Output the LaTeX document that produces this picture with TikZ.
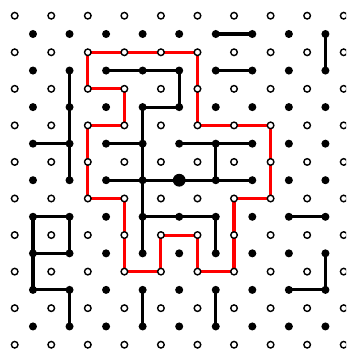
\documentclass[tikz,border=0pt]{standalone}
\usepackage{tikz}
\usetikzlibrary{backgrounds}
\tikzset{
  lat/open/.style={draw, circle, fill=white, line width=1.1pt, inner sep=0pt, minimum size=1.8mm},
  lat/dot/.style={fill, circle, inner sep=0pt, minimum size=2.2mm},
  lat/root/.style={fill, circle, inner sep=0pt, minimum size=3.5mm},
  lat/edge/.style={line width=2.4pt},
  lat/loop/.style={red, line width=2.4pt}
}

\begin{document}
\begin{tikzpicture}
  \useasboundingbox (-0.402,0.43) rectangle (9.063,-9.117);
  \clip (-0.402,0.43) rectangle (9.063,-9.117);

  % the two lattices
  \foreach \i in {0,...,9}
    \foreach \j in {0,...,9}
      \node[lat/open] (o-\i-\j) at (\i,-\j) {};
  \foreach \k in {0,...,8}
    \foreach \l in {0,...,8}
      \node[lat/dot] (f-\k-\l) at (\k+0.5,-\l-0.5) {};
  \node[lat/root] (root) at (f-4-4) {};

  \begin{scope}[on background layer]
    % loop
    \draw[lat/loop] (o-2-1.center) -- (o-5-1.center) -- (o-5-3.center) -- (o-7-3.center)
      -- (o-7-5.center) -- (o-6-5.center) -- (o-6-7.center) -- (o-5-7.center)
      -- (o-5-6.center) -- (o-4-6.center) -- (o-4-7.center) -- (o-3-7.center)
      -- (o-3-5.center) -- (o-2-5.center) -- (o-2-3.center) -- (o-3-3.center)
      -- (o-3-2.center) -- (o-2-2.center) -- cycle;

    % dual edges
    \draw[lat/edge] (f-5-0.center) -- (f-6-0.center);
    \draw[lat/edge] (f-8-0.center) -- (f-8-1.center);
    \draw[lat/edge] (f-2-1.center) -- (f-4-1.center) -- (f-4-2.center) -- (f-3-2.center) -- (f-3-6.center);
    \draw[lat/edge] (f-5-1.center) -- (f-6-1.center);
    \draw[lat/edge] (f-1-1.center) -- (f-1-4.center);
    \draw[lat/edge] (f-0-3.center) -- (f-1-3.center);
    \draw[lat/edge] (f-2-3.center) -- (f-3-3.center);
    \draw[lat/edge] (f-4-3.center) -- (f-6-3.center);
    \draw[lat/edge] (f-5-3.center) -- (f-5-4.center);
    \draw[lat/edge] (f-2-4.center) -- (f-6-4.center);
    \draw[lat/edge] (f-3-5.center) -- (f-5-5.center) -- (f-5-6.center);
    \draw[lat/edge] (f-7-5.center) -- (f-8-5.center);
    \draw[lat/edge] (f-0-5.center) -- (f-1-5.center) -- (f-1-6.center) -- (f-0-6.center) -- cycle;
    \draw[lat/edge] (f-0-6.center) -- (f-0-7.center) -- (f-1-7.center) -- (f-1-8.center);
    \draw[lat/edge] (f-3-7.center) -- (f-3-8.center);
    \draw[lat/edge] (f-5-7.center) -- (f-5-8.center);
    \draw[lat/edge] (f-8-6.center) -- (f-8-7.center) -- (f-7-7.center);
  \end{scope}
\end{tikzpicture}
\end{document}
